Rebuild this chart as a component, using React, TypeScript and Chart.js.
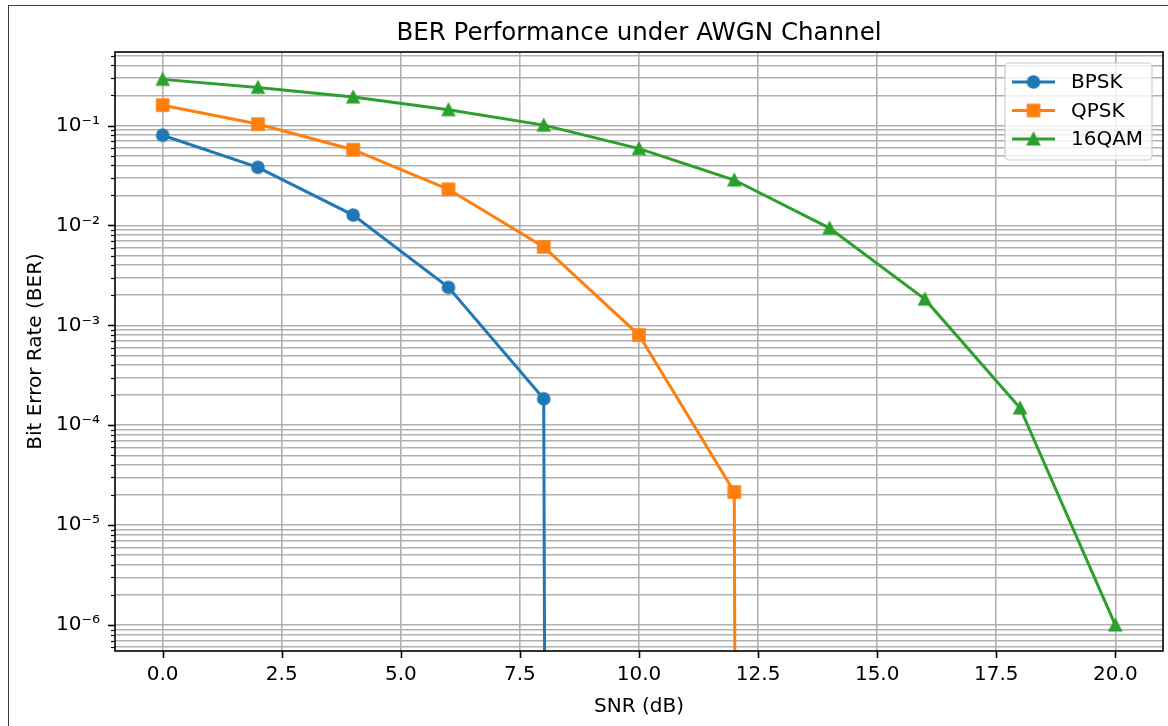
import React, { useEffect, useRef } from 'react';
import { Chart, registerables } from 'chart.js';

Chart.register(...registerables);

// ---- Data ----
const snrDb = [0, 2, 4, 6, 8, 10, 12, 14, 16, 18, 20];
const berBPSK = [0.080, 0.0382, 0.0127, 0.0024, 0.000184, 0, 0, 0, 0, 0, 0];
const berQPSK = [0.160, 0.1035, 0.0573, 0.0230, 0.0061, 0.00080, 0.0000215, 0, 0, 0, 0];
const ber16QAM = [0.290, 0.241, 0.193, 0.144, 0.101, 0.0588, 0.0285, 0.0094, 0.00183, 0.000149, 0.0000010];
const seriesNames = ['BPSK', 'QPSK', '16QAM'];
const seriesColors = ['#1f77b4', '#ff7f0e', '#2ca02c'];
const seriesMarkers = ['circle', 'square', 'triangle'];
const xTickValues = [0, 2.5, 5, 7.5, 10, 12.5, 15, 17.5, 20];
const yExponents = [-7, -6, -5, -4, -3, -2, -1, 0];

const chartTitle = 'BER Performance under AWGN Channel';
const xTitle = 'SNR (dB)';
const yTitle = 'Bit Error Rate (BER)';

const X_MIN = -1;
const X_MAX = 21;
const Y_MIN = 5.5e-7;
const Y_MAX = 0.545;
// matplotlib's log-scale "clip" of non-positive values: send zeros far below the axis
const CLIP_FLOOR = 1e-300;

const FONT = '"DejaVu Sans", "Liberation Sans", sans-serif';

const SUP: Record<string, string> = {
  '-': '\u207B', '0': '\u2070', '1': '\u00B9', '2': '\u00B2', '3': '\u00B3',
  '4': '\u2074', '5': '\u2075', '6': '\u2076', '7': '\u2077', '8': '\u2078', '9': '\u2079',
};
const sup = (s: string) => s.split('').map((c) => SUP[c] || c).join('');

function isMajor(v: number) {
  const e = Math.log10(v);
  return Math.abs(e - Math.round(e)) < 1e-9;
}

function makeMarker(shape: string, color: string): HTMLCanvasElement {
  const c = document.createElement('canvas');
  c.width = 18;
  c.height = 18;
  const ctx = c.getContext('2d')!;
  ctx.fillStyle = color;
  ctx.beginPath();
  if (shape === 'circle') {
    ctx.arc(9, 9, 6.8, 0, Math.PI * 2);
  } else if (shape === 'square') {
    ctx.rect(9 - 6.8, 9 - 6.8, 13.6, 13.6);
  } else {
    ctx.moveTo(9, 9 - 7.8);
    ctx.lineTo(9 + 7.3, 9 + 6.6);
    ctx.lineTo(9 - 7.3, 9 + 6.6);
    ctx.closePath();
  }
  ctx.fill();
  return c;
}

export default function App() {
  const ref = useRef<HTMLCanvasElement | null>(null);

  useEffect(() => {
    const canvas = ref.current;
    if (!canvas) return;

    const markers = seriesMarkers.map((m, i) => makeMarker(m, seriesColors[i]));
    const series = [berBPSK, berQPSK, ber16QAM];

    const yTicks: number[] = [];
    yExponents.forEach((e) => {
      for (let s = 1; s <= 9; s++) {
        const v = s * Math.pow(10, e);
        if (v >= Y_MIN && v <= Y_MAX) yTicks.push(v);
      }
    });

    const decor = {
      id: 'mplDecor',
      afterDatasetsDraw(chart: any) {
        const ctx = chart.ctx as CanvasRenderingContext2D;
        const a = chart.chartArea;
        const xs = chart.scales.x;
        const ys = chart.scales.y;
        ctx.save();

        // spines
        ctx.strokeStyle = '#000';
        ctx.lineWidth = 1.6;
        ctx.strokeRect(a.left, a.top, a.right - a.left, a.bottom - a.top);

        // tick marks
        ctx.lineWidth = 1.6;
        xTickValues.forEach((v) => {
          const px = Math.round(xs.getPixelForValue(v)) + 0.5;
          ctx.beginPath();
          ctx.moveTo(px, a.bottom);
          ctx.lineTo(px, a.bottom + 7);
          ctx.stroke();
        });
        yTicks.forEach((v) => {
          const py = Math.round(ys.getPixelForValue(v)) + 0.5;
          const len = isMajor(v) ? 7 : 4;
          ctx.lineWidth = isMajor(v) ? 1.6 : 1.2;
          ctx.beginPath();
          ctx.moveTo(a.left, py);
          ctx.lineTo(a.left - len, py);
          ctx.stroke();
        });

        // legend
        const boxW = 147;
        const boxH = 97;
        const bx = a.right - 11 - boxW;
        const by = a.top + 11;
        ctx.beginPath();
        (ctx as any).roundRect(bx, by, boxW, boxH, 4);
        ctx.fillStyle = 'rgba(255,255,255,0.8)';
        ctx.fill();
        ctx.strokeStyle = '#cccccc';
        ctx.lineWidth = 1.2;
        ctx.stroke();
        ctx.font = `20px ${FONT}`;
        ctx.textBaseline = 'middle';
        ctx.textAlign = 'left';
        chart.data.datasets.forEach((ds: any, i: number) => {
          const cy = by + 19 + i * 28.5;
          ctx.strokeStyle = seriesColors[i];
          ctx.lineWidth = 3;
          ctx.beginPath();
          ctx.moveTo(bx + 7, cy);
          ctx.lineTo(bx + 50, cy);
          ctx.stroke();
          ctx.drawImage(markers[i], bx + 28.5 - 9, cy - 9);
          ctx.fillStyle = '#000';
          ctx.fillText(ds.label, bx + 66, cy + 1);
        });

        // title and axis labels
        ctx.fillStyle = '#000';
        ctx.textAlign = 'center';
        ctx.textBaseline = 'alphabetic';
        ctx.font = `24.5px ${FONT}`;
        ctx.fillText(chartTitle, (a.left + a.right) / 2, 40);
        ctx.font = `20px ${FONT}`;
        ctx.fillText(xTitle, (a.left + a.right) / 2, 712);
        ctx.translate(41, (a.top + a.bottom) / 2);
        ctx.rotate(-Math.PI / 2);
        ctx.fillText(yTitle, 0, 0);
        ctx.restore();
      },
    };

    const chart = new Chart(canvas, {
      type: 'line',
      data: {
        datasets: series.map((arr, i) => ({
          label: seriesNames[i],
          data: snrDb.map((x, j) => ({ x, y: arr[j] > 0 ? arr[j] : CLIP_FLOOR })),
          borderColor: seriesColors[i],
          backgroundColor: seriesColors[i],
          borderWidth: 3,
          pointStyle: markers[i] as any,
          pointRadius: 7,
          pointHoverRadius: 7,
          tension: 0,
          fill: false,
          order: series.length - i,
        })),
      },
      options: {
        responsive: false,
        animation: false,
        devicePixelRatio: 1,
        events: [],
        layout: { autoPadding: false, padding: { left: 0, top: 52, right: 5, bottom: 0 } },
        plugins: {
          legend: { display: false },
          tooltip: { enabled: false },
          title: { display: false },
        },
        scales: {
          x: {
            type: 'linear',
            min: X_MIN,
            max: X_MAX,
            afterBuildTicks: (s: any) => {
              s.ticks = xTickValues.map((v) => ({ value: v }));
            },
            afterFit: (s: any) => {
              s.height = 75;
              s.paddingLeft = 0;
              s.paddingRight = 0;
            },
            ticks: {
              callback: (v: any) => Number(v).toFixed(1),
              font: { family: FONT, size: 20 },
              color: '#000',
              padding: 12,
              autoSkip: false,
              maxRotation: 0,
            },
            grid: { color: '#b0b0b0', lineWidth: 1.6, drawTicks: false },
            border: { display: false },
          },
          y: {
            type: 'logarithmic',
            min: Y_MIN,
            max: Y_MAX,
            afterBuildTicks: (s: any) => {
              s.ticks = yTicks.map((v) => ({ value: v, major: isMajor(v) }));
            },
            afterFit: (s: any) => {
              s.width = 115;
              s.paddingTop = 0;
              s.paddingBottom = 0;
            },
            ticks: {
              callback: (v: any) => (isMajor(Number(v)) ? '10' + sup(String(Math.round(Math.log10(Number(v))))) : ''),
              font: { family: FONT, size: 20 },
              color: '#000',
              padding: 15,
              autoSkip: false,
            },
            grid: { color: '#b0b0b0', lineWidth: 1.6, drawTicks: false },
            border: { display: false },
          },
        },
      },
      plugins: [decor],
    } as any);

    return () => chart.destroy();
  }, []);

  return (
    <div style={{ position: 'fixed', left: 0, top: 0, width: 1168, height: 726, overflow: 'hidden', background: '#fff' }}>
      <div
        style={{
          position: 'absolute',
          left: 8,
          top: 5,
          width: 1300,
          height: 900,
          border: '1px solid #3c3c3c',
          boxSizing: 'border-box',
        }}
      />
      <canvas
        ref={ref}
        width={1168}
        height={726}
        style={{ position: 'absolute', left: 0, top: 0, width: 1168, height: 726 }}
      />
    </div>
  );
}
